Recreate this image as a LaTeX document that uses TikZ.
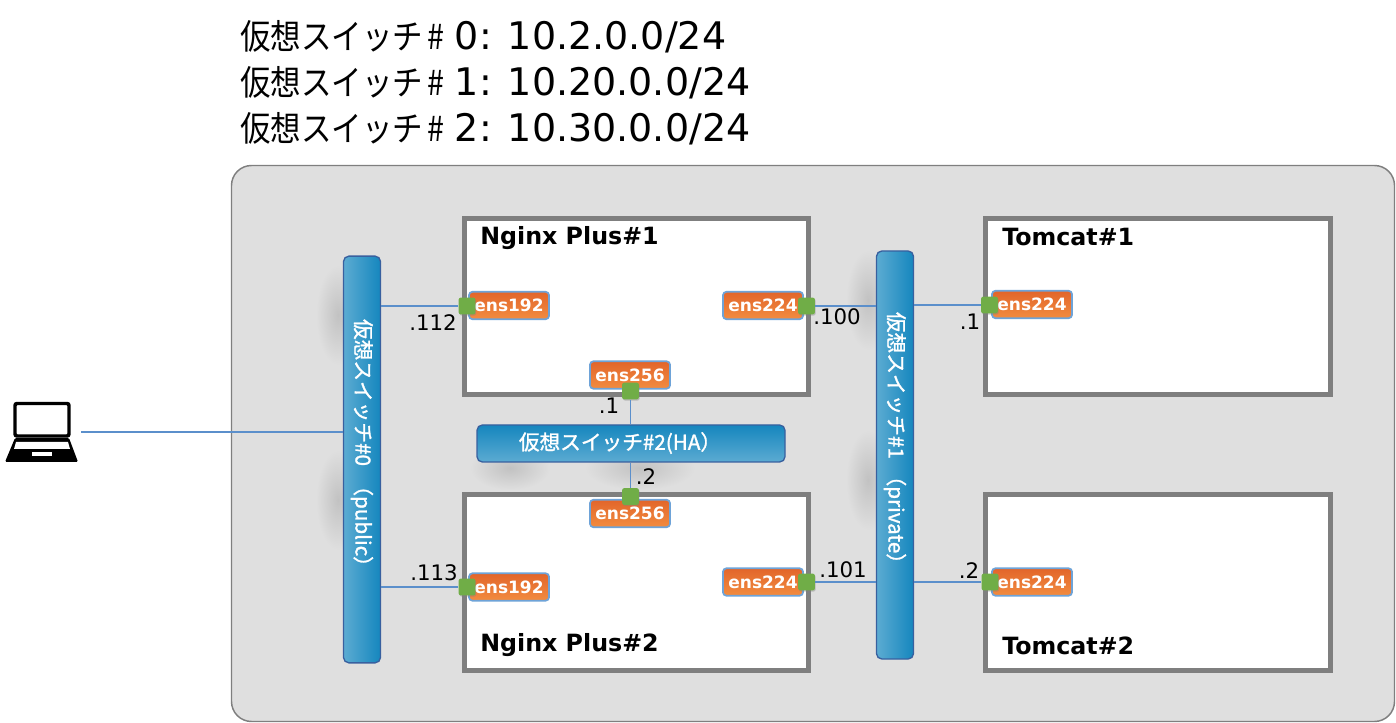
\documentclass[tikz,border=0pt]{standalone}
\usepackage{fontspec}
\setmainfont{DejaVu Sans}
\newfontfamily\cjkbar[FakeBold=1.4]{Noto Sans CJK JP}
\newfontfamily\cjkhead[FakeStretch=0.88]{Noto Sans CJK JP}
\usetikzlibrary{shadows}
\definecolor{panelgray}{HTML}{DFDFDF}
\definecolor{framegray}{HTML}{7F7F7F}
\definecolor{wireblue}{HTML}{5B8FCB}
\definecolor{baredge}{HTML}{38609F}
\definecolor{barlight}{HTML}{5CABD2}
\definecolor{bardark}{HTML}{1586BE}
\definecolor{ifedge}{HTML}{6EA3D8}
\definecolor{iftop}{HTML}{E2652A}
\definecolor{ifbottom}{HTML}{F28C40}
\definecolor{portgreen}{HTML}{70AD47}
\tikzset{
  vmbox/.style={draw=framegray,line width=3.75pt,fill=white,inner sep=0pt,minimum height=132pt},
  vmtitle/.style={anchor=base west,inner sep=0pt,font=\bfseries\fontsize{17.8}{20}\selectfont},
  vbar/.style={draw=baredge,line width=1pt,rounded corners=4pt,left color=barlight,right color=bardark,minimum width=27.75pt,inner sep=0pt},
  hbar/.style={draw=baredge,line width=1pt,rounded corners=4pt,top color=bardark,bottom color=barlight,minimum width=231pt,minimum height=27.75pt,inner sep=0pt},
  bartext/.style={text=white,inner sep=0pt,font=\cjkbar\fontsize{15.5}{18}\selectfont},
  ifbox/.style={draw=ifedge,line width=1.3pt,rounded corners=2.5pt,top color=iftop,bottom color=ifbottom,text=white,minimum width=60pt,minimum height=20.5pt,inner sep=0pt,font=\bfseries\fontsize{12.75}{15}\selectfont},
  port/.style={fill=portgreen,rounded corners=1.5pt,minimum size=12.5pt,inner sep=0pt,drop shadow={shadow xshift=.6pt,shadow yshift=-.9pt,opacity=.4}},
  addr/.style={inner sep=0pt,font=\fontsize{16}{18}\selectfont},
  wire/.style={draw=wireblue,line width=.8pt},
  blur/.style={inner color=black!24,outer color=panelgray,draw=none},
  head/.style={anchor=base west,inner sep=0pt,font=\fontsize{28.5}{30}\selectfont},
}
\newcommand{\jphead}[1]{{\cjkhead\fontsize{26}{30}\selectfont #1\hspace{3pt}\#\hspace{8pt}}}
\begin{document}
\begin{tikzpicture}[x=0.75pt,y=-0.75pt]
\useasboundingbox (0,0) rectangle (1396,723);
% panel
\draw[draw=framegray,line width=1.1pt,fill=panelgray,rounded corners=15pt] (231.5,165.5) rectangle (1394.5,721.5);
% heading
\node[head] (head0) at (240,50) {\jphead{仮想スイッチ}0: 10.2.0.0/24};
\node[head] (head1) at (240,96) {\jphead{仮想スイッチ}1: 10.20.0.0/24};
\node[head] (head2) at (240,141.5) {\jphead{仮想スイッチ}2: 10.30.0.0/24};
% soft shadows
\shade[blur] (338,315) ellipse (22 and 50);
\shade[blur] (338,500) ellipse (22 and 50);
\shade[blur] (868,300) ellipse (22 and 50);
\shade[blur] (868,480) ellipse (22 and 50);
\shade[blur] (510,468) ellipse (40 and 22);
\shade[blur] (640,468) ellipse (55 and 22);
% hosts
\node[vmbox,minimum width=258pt] (nginxa) at (636.5,306.5) {};
\node[vmbox,minimum width=258pt] (nginxb) at (636.5,582.5) {};
\node[vmbox,minimum width=259pt] (tomcata) at (1158,306.5) {};
\node[vmbox,minimum width=259pt] (tomcatb) at (1158,582.5) {};
\node[vmtitle] (nginxatitle) at (480,245) {Nginx Plus\#1};
\node[vmtitle] (nginxbtitle) at (480,651) {Nginx Plus\#2};
\node[vmtitle] (tomcatatitle) at (1002,246) {Tomcat\#1};
\node[vmtitle] (tomcatbtitle) at (1002,654) {Tomcat\#2};
% switches
\node[vbar,minimum height=305pt] (bar0) at (362,459.5) {};
\node[vbar,minimum height=306pt] (bar1) at (895,455) {};
\node[hbar] (bar2) at (631,443.5) {};
\node[bartext,rotate=-90] (bar0text) at (362,448) {仮想スイッチ\#0\hspace{7pt}（public）};
\node[bartext,rotate=-90] (bar1text) at (895,443) {仮想スイッチ\#1\hspace{5pt}（private）};
\node[bartext] (bar2text) at (620,443) {仮想スイッチ\#2(HA）};
% interfaces
\node[ifbox] (ifa192) at (509,305.5) {ens192};
\node[ifbox] (ifa224) at (763,305.5) {ens224};
\node[ifbox] (ifa256) at (630,375) {ens256};
\node[ifbox] (ifb192) at (509,587) {ens192};
\node[ifbox] (ifb224) at (763,582) {ens224};
\node[ifbox] (ifb256) at (630,513.5) {ens256};
\node[ifbox] (ifc224) at (1032,304.5) {ens224};
\node[ifbox] (ifd224) at (1032,582) {ens224};
\node[port] (pa192) at (467,306) {};
\node[port] (pa224) at (806.5,306) {};
\node[port] (pa256) at (630.5,391) {};
\node[port] (pb192) at (467,587) {};
\node[port] (pb224) at (806.5,582) {};
\node[port] (pb256) at (630.5,496.5) {};
\node[port] (pc224) at (989.5,305) {};
\node[port] (pd224) at (990,582) {};
% wires
\draw[wire] (pa192) -- (pa192 -| bar0.east);
\draw[wire] (pb192) -- (pb192 -| bar0.east);
\draw[wire] (pa224) -- (pa224 -| bar1.west);
\draw[wire] (pb224) -- (pb224 -| bar1.west);
\draw[wire] (pc224) -- (pc224 -| bar1.east);
\draw[wire] (pd224) -- (pd224 -| bar1.east);
\draw[wire] (pa256) -- (pa256 |- bar2.north);
\draw[wire] (pb256) -- (pb256 |- bar2.south);
% addresses
\node[addr] (a112) at (433,323) {.112};
\node[addr] (a113) at (434,573) {.113};
\node[addr] (a100) at (837,317) {.100};
\node[addr] (a101) at (843,570) {.101};
\node[addr] (a1) at (970,322) {.1};
\node[addr] (a2) at (969,571) {.2};
\node[addr] (ha1) at (609,406) {.1};
\node[addr] (ha2) at (646,477) {.2};
% laptop
\node[inner sep=0pt,minimum width=57pt,minimum height=45pt] (laptop) at (43,432) {};
\draw[line width=2.6pt,rounded corners=1.5pt,fill=white] (15,403.5) rectangle (69,436);
\fill[black,rounded corners=1pt] (15,438) -- (69,438) -- (78,462) -- (5,462) -- cycle;
\fill[white] (16,442) -- (68,442) -- (70,449) -- (14,449) -- cycle;
\fill[white] (32,452) rectangle (52,456.5);
\draw[wire] (laptop) -- (laptop -| bar0.west);
\end{tikzpicture}
\end{document}
